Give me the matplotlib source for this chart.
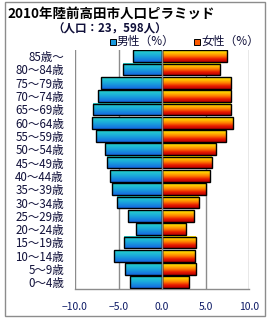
"""Population pyramid of Rikuzentakata, 2010."""

import numpy as np
import matplotlib

matplotlib.use("Agg")
from matplotlib import pyplot as plt
from matplotlib.colors import LinearSegmentedColormap
from matplotlib.patches import Rectangle

plt.rcParams["font.family"] = ["Noto Sans CJK JP", "DejaVu Sans"]

# Data (percent of total population), bottom to top
age_labels = [
    "0～4歳", "5～9歳", "10～14歳", "15～19歳", "20～24歳", "25～29歳",
    "30～34歳", "35～39歳", "40～44歳", "45～49歳", "50～54歳", "55～59歳",
    "60～64歳", "65～69歳", "70～74歳", "75～79歳", "80～84歳", "85歳～",
]
male_pct = [3.7, 4.2, 5.5, 4.4, 3.0, 3.9, 5.2, 5.7, 6.0, 6.3,
            6.5, 7.6, 8.1, 7.9, 7.4, 7.0, 4.5, 3.3]
female_pct = [3.1, 3.9, 3.8, 3.9, 2.8, 3.7, 4.2, 5.1, 5.5, 5.7,
              6.2, 7.4, 8.2, 7.9, 7.9, 7.9, 6.7, 7.5]
x_ticks = [-10, -5, 0, 5, 10]
x_tick_labels = ["−10.0", "−5.0", "0.0", "5.0", "10.0"]

title = "2010年陸前高田市人口ピラミッド"
subtitle = "（人口：23，598人）"

text_color = "#0d1a66"
grid_color = "#8c8c8c"

# bottom -> top gradients
male_cmap = LinearSegmentedColormap.from_list("male", ["#1468e0", "#1aa6dc", "#26d6cc"])
female_cmap = LinearSegmentedColormap.from_list(
    "female", ["#b80000", "#e81a00", "#ff7a00", "#ffc000", "#ffe800"]
)

W, H = 270, 320
fig = plt.figure(figsize=(W / 100, H / 100), dpi=100)
ax = fig.add_axes([75 / W, 31 / H, 174 / W, 239.5 / H])

y = np.arange(len(age_labels))
bar_h = 0.88
grad = np.linspace(0, 1, 64).reshape(-1, 1)

for i, (m, f) in enumerate(zip(male_pct, female_pct)):
    y0, y1 = i - bar_h / 2, i + bar_h / 2
    ax.imshow(grad, cmap=male_cmap, origin="lower", aspect="auto",
              extent=[-m, 0, y0, y1], zorder=2, interpolation="bilinear")
    ax.imshow(grad, cmap=female_cmap, origin="lower", aspect="auto",
              extent=[0, f, y0, y1], zorder=2, interpolation="bilinear")

ax.barh(y, [-m for m in male_pct], height=bar_h, fill=False,
        edgecolor="black", linewidth=1.0, zorder=3)
ax.barh(y, female_pct, height=bar_h, fill=False,
        edgecolor="black", linewidth=1.0, zorder=3)

ax.axvline(0, color=grid_color, linewidth=1.0, zorder=4)
for xv in [-10, -5, 5, 10]:
    ax.axvline(xv, color=grid_color, linewidth=1.0, zorder=1)

ax.set_xlim(-10, 10)
ax.set_ylim(-0.5, len(age_labels) - 0.5)
ax.set_xticks(x_ticks)
ax.set_xticklabels(x_tick_labels, fontsize=7.5, color=text_color)
ax.set_yticks(y)
ax.set_yticklabels(age_labels, fontsize=8.3, color="#10103a")
ax.tick_params(axis="x", length=0, pad=9)
ax.tick_params(axis="y", length=0, pad=8)
for side in ["top", "right", "left"]:
    ax.spines[side].set_visible(False)
ax.spines["bottom"].set_color(grid_color)
ax.spines["bottom"].set_linewidth(1.0)

# outer frame
fig.patches.append(Rectangle((5 / W, 4 / H), 260 / W, 314 / H, transform=fig.transFigure,
                             fill=False, edgecolor=grid_color, linewidth=1.0))

fig.text(7 / W, 1 - 14 / H, title, fontsize=9.7, fontweight="bold",
         ha="left", va="center", color="black")
fig.text(110 / W, 1 - 29 / H, subtitle, fontsize=8.3, fontweight="bold",
         ha="center", va="center", color="#10103a")

# legend
for x0, color, label in [(110, "#1a9ade", "男性（%）"), (194, "#ff5a00", "女性（%）")]:
    fig.patches.append(Rectangle((x0 / W, 1 - 45 / H), 6 / W, 6 / H,
                                 transform=fig.transFigure, facecolor=color,
                                 edgecolor="black", linewidth=0.7))
    fig.text((x0 + 7) / W, 1 - 41.5 / H, label, fontsize=8.5,
             ha="left", va="center", color="#10103a")

fig.savefig("out.png", dpi=100)
